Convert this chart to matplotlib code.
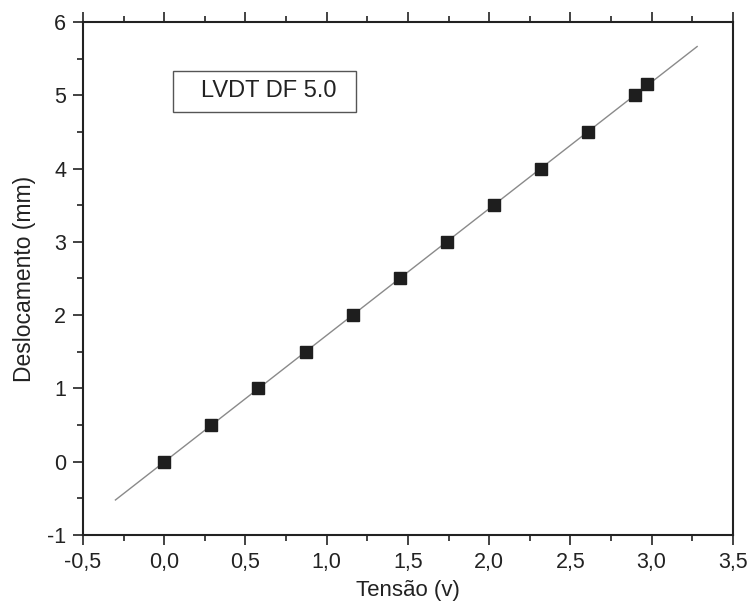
import numpy as np
import matplotlib
matplotlib.use('Agg')
import matplotlib.pyplot as plt
from matplotlib.patches import Rectangle
from matplotlib.ticker import MultipleLocator, FuncFormatter

# dados
tensao = [0.0, 0.29, 0.58, 0.87, 1.16, 1.45, 1.74, 2.03, 2.32, 2.61, 2.90, 2.97]
desloc = [0.0, 0.5, 1.0, 1.5, 2.0, 2.5, 3.0, 3.5, 4.0, 4.5, 5.0, 5.15]
fit_range = [-0.3, 3.28]

plt.rcParams['font.family'] = ['Liberation Sans', 'DejaVu Sans']

fig = plt.figure(figsize=(7.54, 6.08), dpi=100)
ax = fig.add_axes([0.110, 0.120, 0.862, 0.844])

# ajuste linear
a, b = np.polyfit(tensao, desloc, 1)
xf = np.array(fit_range)
ax.plot(xf, a * xf + b, color='#8a8a8a', lw=1.0, zorder=2)
ax.plot(tensao, desloc, 's', color='#1e1e1e', ms=8, zorder=3)

ax.set_xlim(-0.5, 3.5)
ax.set_ylim(-1, 6)
ax.xaxis.set_major_locator(MultipleLocator(0.5))
ax.xaxis.set_minor_locator(MultipleLocator(0.25))
ax.yaxis.set_major_locator(MultipleLocator(1))
ax.yaxis.set_minor_locator(MultipleLocator(0.5))
ax.xaxis.set_major_formatter(FuncFormatter(lambda v, p: ('%.1f' % v).replace('.', ',')))
ax.yaxis.set_major_formatter(FuncFormatter(lambda v, p: '%d' % round(v)))

ax.tick_params(which='both', direction='out', top=True, right=False,
               labelsize=15.5, width=1.2, colors='#222222')
ax.tick_params(which='major', length=7, pad=5)
ax.tick_params(which='minor', length=4)

for s in ax.spines.values():
    s.set_linewidth(1.5)
    s.set_color('#222222')

ax.set_xlabel('Tensão (v)', fontsize=16, color='#222222', labelpad=5)
ax.set_ylabel('Deslocamento (mm)', fontsize=16.5, color='#222222', labelpad=8)

# caixa da legenda
ax.add_patch(Rectangle((0.138, 0.825), 0.282, 0.079, transform=ax.transAxes,
                       fc='white', ec='#555555', lw=1.0, zorder=4))
ax.text(0.286, 0.865, 'LVDT DF 5.0', transform=ax.transAxes, fontsize=17,
        color='#222222', ha='center', va='center', zorder=5)

fig.savefig('out.png', dpi=100)
